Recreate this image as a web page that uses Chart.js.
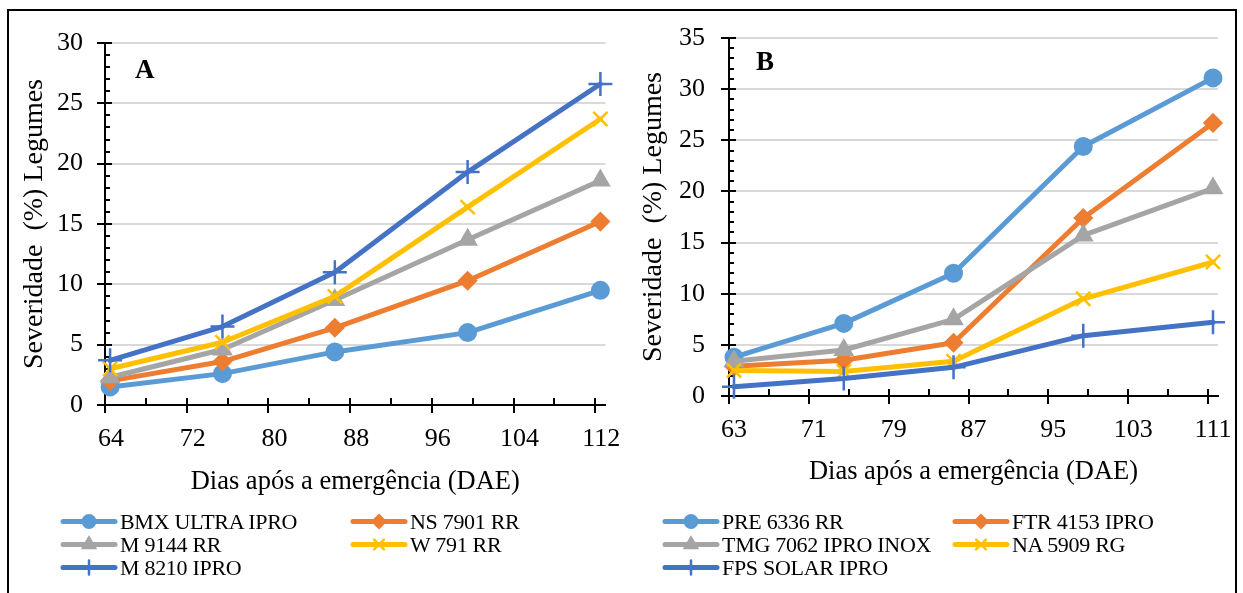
<!DOCTYPE html>
<html>
<head>
<meta charset="utf-8">
<title>Severidade (%) Legumes</title>
<script src="https://cdn.jsdelivr.net/npm/chart.js@4.4.0/dist/chart.umd.min.js"></script>
<style>
    html, body { margin: 0; padding: 0; background: #fff; overflow: hidden; }
    body { position: relative; width: 1243px; height: 593px; }
    #frame {
        position: absolute; left: 7px; top: 9px; width: 1230px; height: 600px;
        border: 2px solid #000; border-bottom: none; box-sizing: border-box;
    }
    .chart { position: absolute; top: 10px; }
    #chartA { left: 8px; }
    #chartB { left: 620px; }
    .legend {
        position: absolute; top: 510px;
        font-family: "Liberation Serif", "Times New Roman", serif;
        font-size: 22px; color: #000; letter-spacing: -0.3px;
    }
    #legendA { left: 60px; }
    #legendB { left: 662px; }
    .legend .item { position: absolute; display: flex; align-items: center; height: 23px; white-space: nowrap; }
    .legend canvas { display: block; margin-right: 2px; }
</style>
</head>
<body>
<div id="frame"></div>
<canvas id="chartA" class="chart" width="612" height="500"></canvas>
<canvas id="chartB" class="chart" width="616" height="500"></canvas>
<div id="legendA" class="legend"></div>
<div id="legendB" class="legend"></div>

<script>
// 图 A 数据
const namesA = ['BMX ULTRA IPRO', 'NS 7901 RR', 'M 9144 RR', 'W 791 RR', 'M 8210 IPRO'];
const daysA = [64.5, 75.5, 86.5, 99.5, 112.5];
const bmxUltraIpro = [1.5, 2.6, 4.4, 6.0, 9.5];
const ns7901Rr = [2.0, 3.6, 6.4, 10.3, 15.2];
const m9144Rr = [2.3, 4.6, 8.7, 13.7, 18.6];
const w791Rr = [3.0, 5.2, 9.0, 16.4, 23.7];
const m8210Ipro = [3.7, 6.5, 11.0, 19.3, 26.6];
const xTicksA = [64, 72, 80, 88, 96, 104, 112];
const yTicksA = [0, 5, 10, 15, 20, 25, 30];

// 图 B 数据
const namesB = ['PRE 6336 RR', 'FTR 4153 IPRO', 'TMG 7062 IPRO INOX', 'NA 5909 RG', 'FPS SOLAR IPRO'];
const daysB = [63.5, 74.5, 85.5, 98.5, 111.5];
const pre6336Rr = [3.8, 7.1, 12.0, 24.4, 31.1];
const ftr4153Ipro = [2.9, 3.5, 5.2, 17.4, 26.7];
const tmg7062IproInox = [3.4, 4.5, 7.5, 15.7, 20.3];
const na5909Rg = [2.5, 2.4, 3.4, 9.5, 13.1];
const fpsSolarIpro = [0.9, 1.7, 2.8, 5.9, 7.2];
const xTicksB = [63, 71, 79, 87, 95, 103, 111];
const yTicksB = [0, 5, 10, 15, 20, 25, 30, 35];

const xTitle = 'Dias após a emergência (DAE)';
const yTitle = 'Severidade  (%) Legumes';

// 样式
const FONT = '"Liberation Serif", "Times New Roman", serif';
const seriesColors = ['#5B9BD5', '#ED7D31', '#A5A5A5', '#FFC000', '#4472C4'];
const markerStyles = ['circle', 'rectRot', 'triangle', 'crossRot', 'cross'];
const markerSizes = [8.5, 9, 10.5, 10, 12];
const markerBorders = [2, 1.5, 1.5, 2.5, 2.5];
const legendMarkerSizes = [6.5, 7, 8, 7, 7];
const HIDDEN = 'rgba(0,0,0,0)';

Chart.defaults.font.family = FONT;
Chart.defaults.color = '#000';

// 坐标轴刻度（主刻度 + 次刻度）
const tickMarks = {
    id: 'tickMarks',
    beforeDatasetsDraw(chart, args, opts) {
        const { ctx, chartArea, scales: { x, y } } = chart;
        const left = chartArea.left;
        const bottom = chartArea.bottom;
        ctx.save();
        ctx.strokeStyle = '#000';
        ctx.lineWidth = 2;
        ctx.beginPath();
        for (let v = opts.xStart; v <= x.max; v += opts.xMinor) {
            const px = Math.round(x.getPixelForValue(v));
            const major = (v - opts.xStart) % opts.xMajor === 0;
            ctx.moveTo(px, bottom - 7);
            ctx.lineTo(px, major ? bottom + 8 : bottom);
        }
        for (let v = y.min; v <= y.max; v += opts.yMinor) {
            const py = Math.round(y.getPixelForValue(v));
            const major = v % opts.yMajor === 0;
            ctx.moveTo(major ? left - 8 : left, py);
            ctx.lineTo(left + (major ? 7 : 5), py);
        }
        ctx.stroke();
        ctx.restore();
    }
};

// 图标记 A / B
const panelLabel = {
    id: 'panelLabel',
    afterDraw(chart, args, opts) {
        const { ctx, chartArea } = chart;
        ctx.save();
        ctx.font = 'bold 27px ' + FONT;
        ctx.fillStyle = '#000';
        ctx.textBaseline = 'alphabetic';
        ctx.fillText(opts.text, chartArea.left + opts.dx, chartArea.top + opts.dy);
        ctx.restore();
    }
};

const ChartPage = {
    charts: {},

    init() {
        this.charts.a = this.createChart('chartA', {
            names: namesA,
            days: daysA,
            series: [bmxUltraIpro, ns7901Rr, m9144Rr, w791Rr, m8210Ipro],
            xTicks: xTicksA,
            yTicks: yTicksA,
            xMin: 64, xMax: 113,
            yMax: 30,
            padding: { left: 0, top: 33, right: 13, bottom: 10 },
            yWidth: 97,
            yLabelPad: 22,
            yTitlePad: 10,
            xLabelOffset: 6,
            xTitlePad: 2,
            label: { text: 'A', dx: 30, dy: 35 }
        });
        this.charts.b = this.createChart('chartB', {
            names: namesB,
            days: daysB,
            series: [pre6336Rr, ftr4153Ipro, tmg7062IproInox, na5909Rg, fpsSolarIpro],
            xTicks: xTicksB,
            yTicks: yTicksB,
            xMin: 63, xMax: 112,
            yMax: 35,
            padding: { left: 0, top: 28, right: 18, bottom: 19 },
            yWidth: 109,
            yLabelPad: 24,
            yTitlePad: 17,
            xLabelOffset: 5,
            xTitlePad: 3,
            label: { text: 'B', dx: 27, dy: 32 }
        });
        this.buildLegend('legendA', namesA);
        this.buildLegend('legendB', namesB);
    },

    // 创建折线图
    createChart(canvasId, cfg) {
        const ctx = document.getElementById(canvasId);
        const n = cfg.series.length;
        const datasets = cfg.series.map((values, i) => ({
            label: cfg.names[i],
            data: values.map((v, j) => ({ x: cfg.days[j], y: v })),
            borderColor: seriesColors[i],
            backgroundColor: seriesColors[i],
            pointBackgroundColor: seriesColors[i],
            pointBorderColor: seriesColors[i],
            pointStyle: markerStyles[i],
            pointRadius: markerSizes[i],
            pointBorderWidth: markerBorders[i],
            borderWidth: 5,
            borderCapStyle: 'round',
            borderJoinStyle: 'round',
            tension: 0,
            clip: false,
            order: n - i
        }));

        return new Chart(ctx, {
            type: 'line',
            data: { datasets: datasets },
            options: {
                responsive: false,
                animation: false,
                events: [],
                layout: { padding: cfg.padding },
                plugins: {
                    legend: { display: false },
                    tooltip: { enabled: false },
                    tickMarks: { xStart: cfg.xTicks[0], xMajor: 8, xMinor: 4, yMajor: 5, yMinor: 1 },
                    panelLabel: cfg.label
                },
                scales: {
                    x: {
                        type: 'linear',
                        min: cfg.xMin,
                        max: cfg.xMax,
                        afterBuildTicks: scale => { scale.ticks = cfg.xTicks.map(v => ({ value: v })); },
                        afterFit: scale => { scale.height = 95; },
                        // 透明的刻度线只用来留出标签间距
                        grid: { color: HIDDEN, tickColor: HIDDEN, drawTicks: true, tickLength: 19 },
                        border: { display: true, color: '#000', width: 2 },
                        ticks: {
                            font: { size: 26 },
                            color: '#000',
                            padding: 0,
                            labelOffset: cfg.xLabelOffset,
                            autoSkip: false,
                            maxRotation: 0
                        },
                        title: {
                            display: true,
                            text: xTitle,
                            font: { size: 26.5 },
                            color: '#000',
                            padding: { top: 0, bottom: cfg.xTitlePad }
                        }
                    },
                    y: {
                        min: 0,
                        max: cfg.yMax,
                        afterBuildTicks: scale => { scale.ticks = cfg.yTicks.map(v => ({ value: v })); },
                        afterFit: scale => { scale.width = cfg.yWidth; },
                        grid: {
                            color: c => (c.tick && c.tick.value === 0 ? HIDDEN : '#D9D9D9'),
                            lineWidth: 2,
                            tickColor: HIDDEN,
                            drawTicks: true,
                            tickLength: cfg.yLabelPad
                        },
                        border: { display: true, color: '#000', width: 2 },
                        ticks: { font: { size: 26 }, color: '#000', padding: 0 },
                        title: {
                            display: true,
                            text: yTitle,
                            font: { size: 28 },
                            color: '#000',
                            padding: { top: cfg.yTitlePad, bottom: 0 }
                        }
                    }
                }
            },
            plugins: [tickMarks, panelLabel]
        });
    },

    // 图例（两列）
    buildLegend(containerId, names) {
        const box = document.getElementById(containerId);
        names.forEach((name, i) => {
            const item = document.createElement('div');
            item.className = 'item';
            item.style.left = (i % 2) * 290 + 'px';
            item.style.top = Math.floor(i / 2) * 23 + 'px';
            const swatch = document.createElement('canvas');
            swatch.width = 58;
            swatch.height = 23;
            this.drawSwatch(swatch, i);
            const text = document.createElement('span');
            text.textContent = name;
            item.appendChild(swatch);
            item.appendChild(text);
            box.appendChild(item);
        });
    },

    drawSwatch(canvas, i) {
        const ctx = canvas.getContext('2d');
        const mid = canvas.height / 2;
        ctx.strokeStyle = seriesColors[i];
        ctx.fillStyle = seriesColors[i];
        ctx.lineWidth = 5;
        ctx.lineCap = 'round';
        ctx.beginPath();
        ctx.moveTo(3, mid);
        ctx.lineTo(canvas.width - 3, mid);
        ctx.stroke();
        ctx.lineWidth = markerBorders[i];
        if (Chart.helpers && Chart.helpers.drawPoint) {
            Chart.helpers.drawPoint(ctx, {
                pointStyle: markerStyles[i],
                radius: legendMarkerSizes[i],
                rotation: 0,
                borderWidth: markerBorders[i]
            }, canvas.width / 2, mid);
        }
    }
};

ChartPage.init();
</script>
</body>
</html>
